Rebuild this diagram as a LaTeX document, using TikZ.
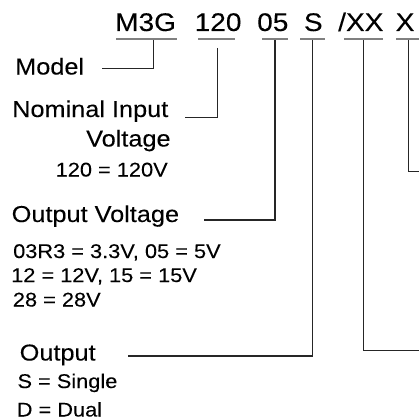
\documentclass[tikz,border=0pt]{standalone}
\usepackage{fontspec}
\setmainfont{Liberation Sans}
\newfontfamily\bigf[FakeStretch=1.1,FakeBold=0.15]{Liberation Sans}
\newfontfamily\labf[FakeStretch=1.1,FakeBold=0.15]{Liberation Sans}
\newfontfamily\smallf[FakeStretch=1.1,FakeBold=0.1]{Liberation Sans}
\begin{document}
\begin{tikzpicture}[x=1pt,y=-1pt,
  code/.style={font=\bigf\fontsize{25.5}{30}\selectfont, anchor=base west, inner sep=0pt},
  lab/.style={font=\labf\fontsize{23}{27}\selectfont, anchor=base west, inner sep=0pt},
  note/.style={font=\smallf\fontsize{19.8}{23}\selectfont, anchor=base west, inner sep=0pt},
  uline/.style={draw=black!50, line width=2pt},
  lead/.style={draw=black!85, line width=1.1pt}]
\useasboundingbox (0,0) rectangle (419,420);
% code segments
\node[code] (c1) at (115,31) {M3G};
\node[code] (c2) at (194.5,31) {120};
\node[code] (c3) at (257,31) {05};
\node[code] (c4) at (303.7,31) {S};
\node[code] (c5) at (338,31) {/XX};
\node[code] (c6) at (395.5,31) {X};
% underlines
\coordinate (u1a) at (116,39); \coordinate (u1b) at (177,39);
\coordinate (u2a) at (198,39); \coordinate (u2b) at (235,39);
\coordinate (u3a) at (262,39); \coordinate (u3b) at (288,39);
\coordinate (u4a) at (300,39); \coordinate (u4b) at (325,39);
\coordinate (u5a) at (344,39); \coordinate (u5b) at (383,39);
\coordinate (u6a) at (396,39); \coordinate (u6b) at (419,39);
\draw[uline] (u1a) -- (u1b);
\draw[uline] (u2a) -- (u2b);
\draw[uline] (u3a) -- (u3b);
\draw[uline] (u4a) -- (u4b);
\draw[uline] (u5a) -- (u5b);
\draw[uline] (u6a) -- (u6b);
% labels
\node[lab] (model) at (15,74.5) {Model};
\node[lab] (nom) at (12,117) {Nominal Input};
\node[lab] (nomv) at (86,146.5) {Voltage};
\node[note] (n120) at (55.5,176.5) {120 = 120V};
\node[lab] (outv) at (11.5,222) {Output Voltage};
\node[note] (ov1) at (13,258) {03R3 = 3.3V, 05 = 5V};
\node[note] (ov2) at (11,282) {12 = 12V, 15 = 15V};
\node[note] (ov3) at (12.7,306.5) {28 = 28V};
\node[lab] (out) at (19.5,360.5) {Output};
\node[note] (o1) at (17.3,388) {S = Single};
\node[note] (o2) at (16.6,416.5) {D = Dual};
% leader lines
\coordinate (l1t) at (153.5,40); \coordinate (l1c) at (153.5,68.3); \coordinate (l1e) at (102,68.3);
\coordinate (l2t) at (217.3,48); \coordinate (l2c) at (217.3,117.3); \coordinate (l2e) at (185,117.3);
\coordinate (l3t) at (275,40); \coordinate (l3c) at (275,220); \coordinate (l3e) at (204,220);
\coordinate (l4t) at (312.3,40); \coordinate (l4c) at (312.3,356); \coordinate (l4e) at (128.3,356);
\coordinate (l5t) at (363.3,40); \coordinate (l5c) at (363.3,350.7); \coordinate (l5e) at (419,350.7);
\coordinate (l6t) at (408.3,40); \coordinate (l6c) at (408.3,171.7); \coordinate (l6e) at (419,171.7);
\draw[lead] (l1t) -- (l1c) -- (l1e);
\draw[lead] (l2t) -- (l2c) -- (l2e);
\draw[lead] (l3t) -- (l3c) -- (l3e);
\draw[lead] (l4t) -- (l4c) -- (l4e);
\draw[lead] (l5t) -- (l5c) -- (l5e);
\draw[lead] (l6t) -- (l6c) -- (l6e);
\end{tikzpicture}
\end{document}
